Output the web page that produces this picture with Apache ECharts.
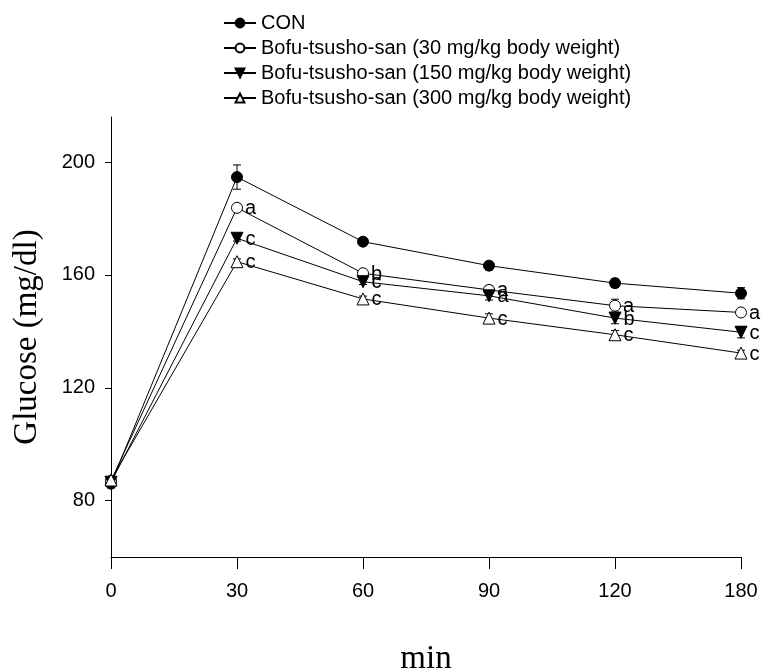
<!DOCTYPE html>
<html>
<head>
<meta charset="utf-8">
<script src="https://cdn.jsdelivr.net/npm/echarts@6/dist/echarts.min.js"></script>
<style>
  html, body { margin: 0; padding: 0; background: #fff; }
  #main { width: 761px; height: 669px; }
</style>
</head>
<body>
<div id="main"></div>
<script>
// time points (min)
var times = ['0', '30', '60', '90', '120', '180'];
var yTicks = [80, 120, 160, 200];

// means and error bars
var conMean = [86.0, 194.7, 171.8, 163.3, 157.1, 153.5];
var conErr = [1.5, 4.3, 1.3, 1.5, 1.5, 2.0];
var bts30Mean = [87.0, 183.8, 160.6, 154.7, 149.1, 146.7];
var bts30Err = [1.0, 1.0, 1.0, 1.5, 2.3, 1.0];
var bts150Mean = [86.5, 173.0, 157.6, 152.6, 144.7, 139.7];
var bts150Err = [1.5, 1.0, 1.0, 1.5, 2.0, 2.0];
var bts300Mean = [87.3, 164.7, 151.5, 144.7, 138.8, 132.3];
var bts300Err = [1.0, 1.0, 1.0, 1.5, 1.5, 1.0];

// significance letters
var bts30Letters = ['', 'a', 'b', 'a', 'a', 'a'];
var bts150Letters = ['', 'c', 'c', 'a', 'b', 'c'];
var bts300Letters = ['', 'c', 'c', 'c', 'c', 'c'];

var names = [
  'CON',
  'Bofu-tsusho-san (30 mg/kg body weight)',
  'Bofu-tsusho-san (150 mg/kg body weight)',
  'Bofu-tsusho-san (300 mg/kg body weight)'
];

var sans = 'Liberation Sans, Arial, sans-serif';
var serif = 'Liberation Serif, Times New Roman, serif';

function errData(mean, err) {
  return mean.map(function (m, i) { return [i, m - err[i], m + err[i]]; });
}

function errSeries(mean, err) {
  return {
    type: 'custom',
    silent: true,
    z: 1,
    data: errData(mean, err),
    renderItem: function (params, api) {
      var lo = api.coord([api.value(0), api.value(1)]);
      var hi = api.coord([api.value(0), api.value(2)]);
      var w = 4;
      var st = { stroke: '#000', lineWidth: 1 };
      return {
        type: 'group',
        children: [
          { type: 'line', shape: { x1: hi[0], y1: hi[1], x2: lo[0], y2: lo[1] }, style: st },
          { type: 'line', shape: { x1: hi[0] - w, y1: hi[1], x2: hi[0] + w, y2: hi[1] }, style: st },
          { type: 'line', shape: { x1: lo[0] - w, y1: lo[1], x2: lo[0] + w, y2: lo[1] }, style: st }
        ]
      };
    }
  };
}

function lineSeries(name, mean, symbol, fill, rotate, letters) {
  return {
    name: name,
    type: 'line',
    data: mean,
    z: 3,
    symbol: symbol,
    symbolSize: symbol === 'circle' ? 11 : 12,
    symbolRotate: rotate,
    showAllSymbol: true,
    lineStyle: { color: '#000', width: 1 },
    itemStyle: { color: fill, borderColor: '#000', borderWidth: 1 },
    label: {
      show: !!letters,
      position: 'right',
      distance: 2,
      offset: [0, 1],
      color: '#000',
      fontSize: 20,
      fontFamily: sans,
      formatter: function (p) { return letters ? letters[p.dataIndex] : ''; }
    },
    emphasis: { disabled: true }
  };
}

var chart = echarts.init(document.getElementById('main'));
chart.setOption({
  animation: false,
  backgroundColor: '#fff',
  legend: {
    orient: 'vertical',
    left: 218,
    top: 8,
    itemGap: 5,
    itemWidth: 32,
    itemHeight: 11,
    textStyle: { color: '#000', fontSize: 20, fontFamily: sans },
    data: names
  },
  grid: { left: 111, right: 20, top: 117, bottom: 112, outerBoundsMode: 'none' },
  xAxis: {
    type: 'category',
    data: times,
    boundaryGap: false,
    name: 'min',
    nameLocation: 'middle',
    nameGap: 86,
    nameTextStyle: { color: '#000', fontSize: 33, fontFamily: serif },
    axisLine: { lineStyle: { color: '#000', width: 1 } },
    axisTick: { show: true, length: 12, alignWithLabel: true, lineStyle: { color: '#000' } },
    axisLabel: { color: '#000', fontSize: 20, margin: 24, fontFamily: sans },
    splitLine: { show: false }
  },
  yAxis: {
    type: 'value',
    min: 60,
    max: 216,
    name: 'Glucose (mg/dl)',
    nameLocation: 'middle',
    nameGap: 67,
    nameTextStyle: { color: '#000', fontSize: 33, fontFamily: serif },
    axisLine: { show: true, lineStyle: { color: '#000', width: 1 } },
    axisTick: { show: true, length: 6, customValues: yTicks, lineStyle: { color: '#000' } },
    axisLabel: { color: '#000', fontSize: 20, margin: 16, customValues: yTicks, fontFamily: sans },
    splitLine: { show: false }
  },
  series: [
    errSeries(conMean, conErr),
    errSeries(bts30Mean, bts30Err),
    errSeries(bts150Mean, bts150Err),
    errSeries(bts300Mean, bts300Err),
    lineSeries(names[0], conMean, 'circle', '#000', 0, null),
    lineSeries(names[1], bts30Mean, 'circle', '#fff', 0, bts30Letters),
    lineSeries(names[2], bts150Mean, 'triangle', '#000', 180, bts150Letters),
    lineSeries(names[3], bts300Mean, 'triangle', '#fff', 0, bts300Letters)
  ]
});
</script>
</body>
</html>
